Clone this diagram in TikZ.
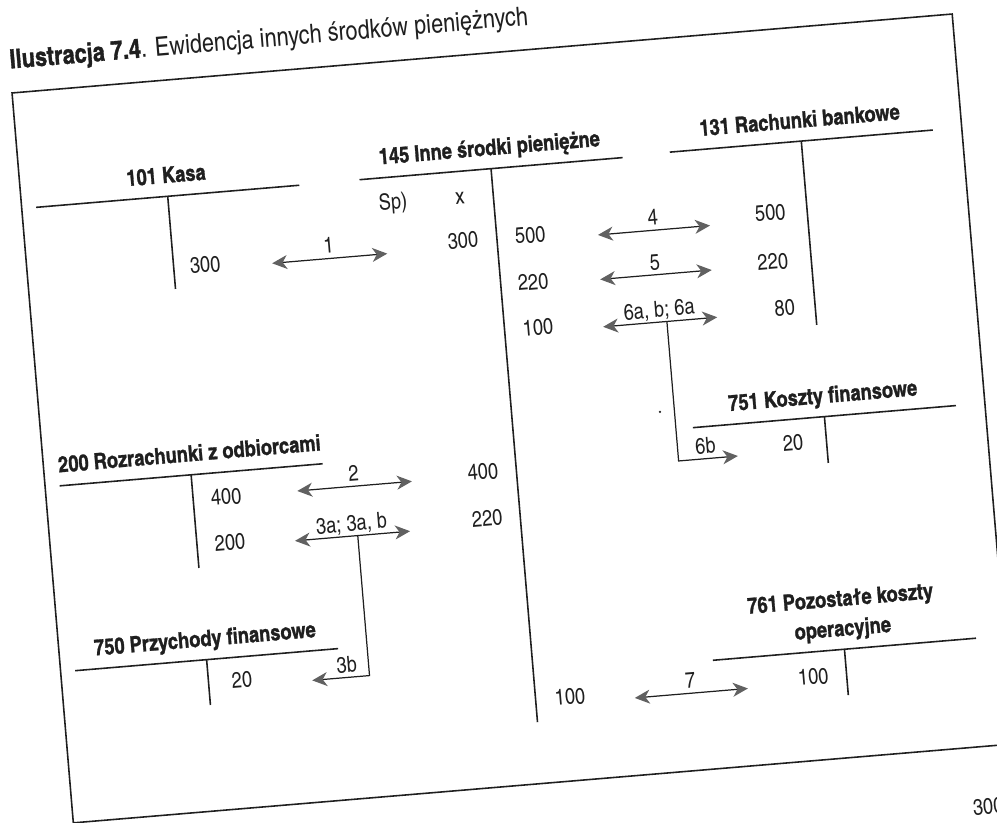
\documentclass[tikz,border=0pt]{standalone}
\usepackage{fontspec}
\setmainfont{texgyreheroscn}[Extension=.otf, UprightFont=*-regular, BoldFont=*-bold, ItalicFont=*-italic, BoldItalicFont=*-bolditalic, BoldFeatures={FakeBold=1.2}]
\usetikzlibrary{arrows.meta}

\definecolor{tipgray}{gray}{0.38}
\definecolor{inkgray}{gray}{0.12}

\tikzset{
  acct/.style={line width=0.9pt, draw=inkgray},
  accttitle/.style={font=\fontsize{12.7}{17}\selectfont\bfseries, text=inkgray, anchor=base, inner sep=0pt, align=center},
  amount/.style={font=\fontsize{12.7}{15}\selectfont, text=inkgray, inner sep=0pt},
  oplabel/.style={font=\fontsize{12.7}{15}\selectfont, text=inkgray, anchor=base, yshift=1mm, inner sep=0pt},
  twoway/.style={line width=0.7pt, draw=inkgray, {Stealth[length=3mm, width=2.8mm, inset=0.9mm, color=tipgray]}-{Stealth[length=3mm, width=2.8mm, inset=0.9mm, color=tipgray]}},
  oneway/.style={line width=0.7pt, draw=inkgray, -{Stealth[length=3mm, width=2.8mm, inset=0.9mm, color=tipgray]}}
}

\begin{document}
\begin{tikzpicture}
  \useasboundingbox (0,0) rectangle (19.94,16.44);

  % the whole page is scanned slightly tilted
  \begin{scope}[rotate=4.8, transform shape]

    % Caption and frame
    \node[anchor=base west, inner sep=0pt, font=\fontsize{15.1}{18}\selectfont, text=inkgray] (caption) at (1.46,15.0) {\textbf{Ilustracja 7.4}. Ewidencja innych środków pieniężnych};
    \draw[acct] (1.46,-0.14) rectangle (20.33,14.51);

    % T-accounts
    \foreach \id/\mx/\y/\yb/\title in {
        kasa/4.39/12.19/10.33/{101 Kasa},
        inne/10.88/12.20/1.09/{145 Inne środki pieniężne},
        bank/17.11/12.23/8.54/{131 Rachunki bankowe},
        rozr/4.39/6.60/4.73/{200 Rozrachunki z odbiorcami},
        kfin/17.11/6.70/5.77/{751 Koszty finansowe},
        przy/4.39/2.89/1.98/{750 Przychody finansowe},
        pozo/17.12/2.03/1.11/{761 Pozostałe koszty\\operacyjne}} {
      \draw[acct] (\mx-2.64,\y) -- (\mx+2.64,\y);
      \draw[acct] (\mx,\y) -- (\mx,\yb);
      \node[accttitle] (\id-t) at (\mx,\y+0.27) {\title};
    }

    % Amounts booked on the accounts
    \foreach \id/\x/\y/\val in {
        kasa-c1/5.02/10.76/300,
        inne-sp/8.87/11.68/Sp),
        inne-x/10.21/11.67/x,
        inne-d1/10.20/10.82/300,
        inne-d2/10.21/6.17/400,
        inne-d3/10.22/5.24/220,
        inne-c1/11.55/10.81/500,
        inne-c2/11.53/9.87/220,
        inne-c3/11.55/8.96/100,
        inne-c4/11.57/1.54/100,
        bank-d1/16.37/10.85/500,
        bank-d2/16.34/9.87/220,
        bank-d3/16.50/8.93/80,
        rozr-c1/5.05/6.10/400,
        rozr-c2/5.05/5.18/200,
        kfin-d1/16.44/6.23/20,
        przy-c1/5.06/2.43/20,
        pozo-d1/16.45/1.53/100} {
      \node[amount] (\id) at (\x,\y) {\val};
    }

    % Operations (double arrows)
    \foreach \id/\xa/\xb/\y/\lab in {
        op1/6.36/8.67/10.68/1,
        op2/6.48/8.78/6.10/2,
        op3/6.35/8.66/5.11/{3a; 3a, b},
        op4/12.90/15.15/10.70/4,
        op5/12.87/15.11/9.81/5,
        op6/12.85/15.14/8.86/{6a, b; 6a},
        op7/12.86/15.13/1.41/7} {
      \coordinate (\id-l) at (\xa,\y);
      \coordinate (\id-r) at (\xb,\y);
      \draw[twoway] (\id-l) -- (\id-r) node[oplabel, midway] (\id-lab) {\lab};
    }

    % Branches 3b and 6b
    \coordinate (op3-b) at (7.61,5.11);
    \coordinate (op3b-end) at (6.46,2.30);
    \draw[oneway] (op3-b) |- (op3b-end) node[oplabel, pos=0.69] (op3b-lab) {3b};
    \coordinate (op6-b) at (14.13,8.86);
    \coordinate (op6b-end) at (15.32,6.06);
    \draw[oneway] (op6-b) |- (op6b-end) node[oplabel, pos=0.735] (op6b-lab) {6b};
    \fill[inkgray] (13.84,7.07) circle (0.025);

    % Page number, cut by the scan
    \node[amount] (pagenum) at (19.72,-1.34) {300};
  \end{scope}
\end{tikzpicture}
\end{document}
